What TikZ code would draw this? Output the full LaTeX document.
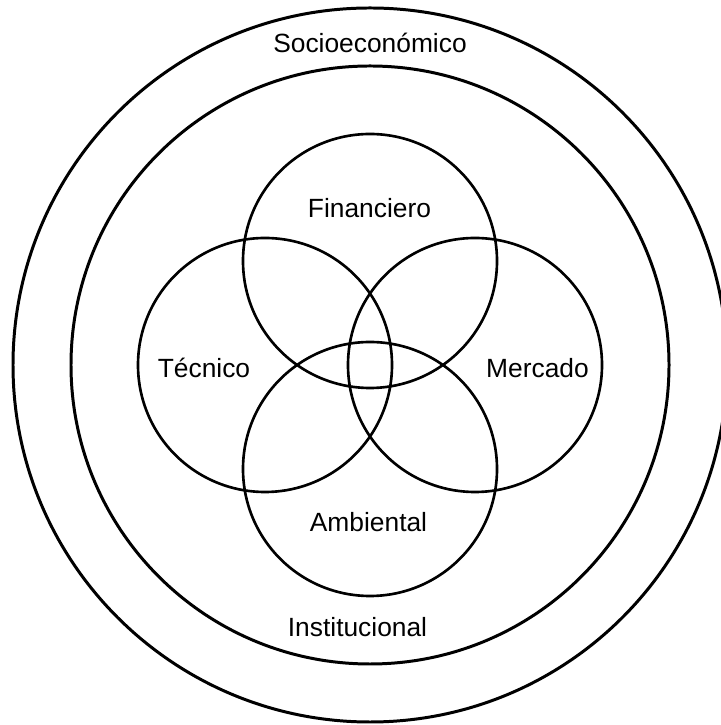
\documentclass[tikz,border=0pt]{standalone}
\usepackage{fontspec}
\setmainfont{Liberation Sans}
\usepackage{tikz}
\usetikzlibrary{positioning}

\begin{document}
\begin{tikzpicture}[
  ring/.style={line width=1.7pt},
  area/.style={line width=1.5pt},
  lbl/.style={font=\fontsize{15}{18}\selectfont, inner sep=0pt, anchor=base}]
  \useasboundingbox (0,0) rectangle (14.4,14.5);
  \coordinate (c) at (7.4,7.2);
  % outer rings
  \draw[ring] (c) circle (7.14);
  \draw[ring] (c) circle (5.98);
  % four overlapping areas
  \draw[area] (7.4,9.28) circle (2.54);
  \draw[area] (5.3,7.2) circle (2.54);
  \draw[area] (9.5,7.2) circle (2.54);
  \draw[area] (7.4,5.12) circle (2.54);
  % labels
  \node[lbl] (socio) at (7.4,13.44) {Socioeconómico};
  \node[lbl] (inst) at (7.15,1.76) {Institucional};
  \node[lbl] (fin) at (7.39,10.14) {Financiero};
  \node[lbl] (tec) at (4.08,6.94) {Técnico};
  \node[lbl] (mer) at (10.75,6.94) {Mercado};
  \node[lbl] (amb) at (7.37,3.86) {Ambiental};
\end{tikzpicture}
\end{document}
